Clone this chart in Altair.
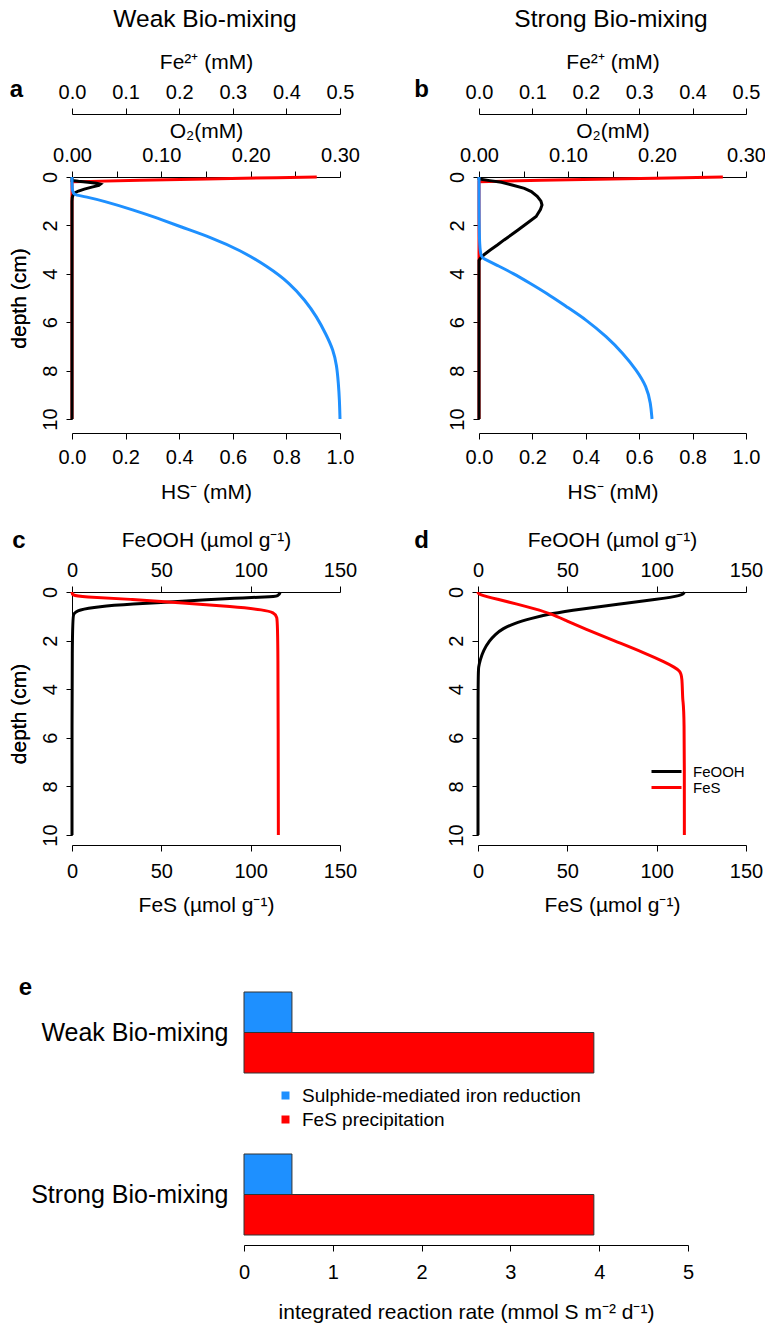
import altair as alt
import pandas as pd

FONT = "Liberation Sans"
BLUE = "#1E90FF"
RED = "#FF0000"
BLACK = "#000000"

# ---------------- data ----------------
# Panel a (weak bio-mixing)
o2_weak_depth = [0, 0.03, 0.08, 0.13, 0.2, 10]
o2_weak = [0.274, 0.229, 0.151, 0.076, 0.0, 0.0]
fe_weak_depth = [0, 0.14, 0.18, 0.22, 0.26, 0.3, 0.35, 0.42, 0.5, 0.58, 0.66, 0.75, 0.85, 1.0, 10]
fe_weak = [0, 0, 0.012, 0.03, 0.046, 0.053, 0.05, 0.037, 0.023, 0.012, 0.005, 0.002, 0.0005, 0, 0]
hs_weak_depth = [0, 0.68, 0.75, 0.81, 1.0, 1.36, 1.7, 2.05, 2.5, 3.02, 3.7, 4.39, 5.1, 5.77, 6.5, 7.15, 7.8, 8.53, 9.2, 10]
hs_weak = [0, 0, 0.015, 0.05, 0.12, 0.229, 0.32, 0.403, 0.52, 0.627, 0.73, 0.813, 0.87, 0.913, 0.948, 0.975, 0.988, 0.994, 0.998, 1.0]

# Panel b (strong bio-mixing)
o2_strong_depth = [0, 0.03, 0.08, 0.13, 0.2, 10]
o2_strong = [0.274, 0.23, 0.149, 0.07, 0.0, 0.0]
fe_strong_depth = [0, 0.08, 0.15, 0.22, 0.33, 0.47, 0.6, 0.8, 1.0, 1.16, 1.35, 1.63, 1.91, 2.19, 2.4, 2.6, 2.8, 3.02, 3.2, 3.35, 3.45, 10]
fe_strong = [0, 0, 0.02, 0.042, 0.062, 0.085, 0.098, 0.109, 0.116, 0.118, 0.115, 0.107, 0.09, 0.073, 0.06, 0.047, 0.035, 0.021, 0.01, 0.003, 0, 0]
hs_strong_depth = [0, 3.28, 3.36, 3.64, 3.98, 4.39, 4.8, 5.36, 5.91, 6.6, 7.29, 7.98, 8.66, 9.35, 10]
hs_strong = [0, 0, 0.016, 0.066, 0.128, 0.191, 0.253, 0.328, 0.403, 0.478, 0.54, 0.59, 0.628, 0.643, 0.648]

# Panel c (weak) solid phases
feooh_weak_depth = [0, 0.17, 0.2, 0.26, 0.32, 0.38, 0.44, 0.49, 0.55, 0.6, 0.67, 0.74, 0.82, 0.9, 1.05, 10]
feooh_weak = [116.5, 116, 110, 90, 75, 62, 47, 34, 23, 15.7, 9, 4.5, 2, 1, 0, 0]
fes_weak_depth = [0, 0.13, 0.2, 0.3, 0.45, 0.6, 0.74, 0.85, 1.0, 1.5, 10]
fes_weak = [0, 0, 5, 34, 62, 90, 108, 113, 114.8, 115.3, 115.5]

# Panel d (strong) solid phases
feooh_strong_depth = [0, 0.15, 0.3, 0.5, 0.7, 0.88, 1.1, 1.3, 1.5, 1.75, 2.0, 2.4, 2.8, 3.1, 3.3, 10]
feooh_strong = [115.5, 114.5, 100, 78, 58, 41, 29, 20, 14, 9.5, 6.5, 3, 1.2, 0.3, 0, 0]
fes_strong_depth = [0, 0.1, 0.3, 0.5, 0.7, 0.88, 1.2, 1.5, 2.0, 2.5, 2.9, 3.1, 3.25, 3.45, 4.6, 4.65, 10]
fes_strong = [0, 0, 11, 22, 32, 40.3, 50, 59.5, 76, 93, 105, 110, 113, 114.3, 114.5, 115.5, 115.5]

# Panel e (integrated rates)
scenarios = ["Weak Bio-mixing", "Strong Bio-mixing"]
processes = ["Sulphide-mediated iron reduction", "FeS precipitation"]
rate_weak = [0.54, 3.94]
rate_strong = [0.54, 3.94]

# tick values
o2_ticks = [0, 0.05, 0.10, 0.15, 0.20, 0.25, 0.30]
fe_ticks = [0, 0.1, 0.2, 0.3, 0.4, 0.5]
hs_ticks = [0, 0.2, 0.4, 0.6, 0.8, 1.0]
solid_ticks = [0, 50, 100, 150]
depth_ticks = [0, 2, 4, 6, 8, 10]
rate_ticks = [0, 1, 2, 3, 4, 5]

panel_letters = ["a", "b", "c", "d", "e"]
column_titles = ["Weak Bio-mixing", "Strong Bio-mixing"]

# ---------------- layout (pixels) ----------------
H = 1326
XA = [72, 340]
XB = [479, 746]
XC = [72, 340]
XD = [478, 746]
YAB = [177, 419]
YCD = [592, 835]

TICK = 6
LFS = 20
TFS = 21


def top_axis(title, values, axis_y, title_dy, fmt=None, expr=None):
    kw = dict(orient="top", offset=-axis_y, values=values, title=title,
              titleY=title_dy, titleBaseline="alphabetic",
              labelBaseline="alphabetic", tickSize=TICK, labelPadding=10)
    if expr is not None:
        kw["labelExpr"] = expr
    else:
        kw["format"] = fmt
    return alt.Axis(**kw)


def bottom_axis(title, values, axis_y, label_pad, title_dy, fmt):
    return alt.Axis(orient="bottom", offset=axis_y - H, values=values, title=title,
                    titleY=title_dy, titleBaseline="alphabetic",
                    labelBaseline="alphabetic", tickSize=TICK,
                    labelPadding=label_pad, format=fmt)


def depth_axis(x0):
    return alt.Axis(orient="left", offset=-x0, values=depth_ticks, title="depth (cm)",
                    labelAngle=270, labelAlign="center", labelBaseline="alphabetic",
                    tickSize=TICK, labelPadding=10, format="d",
                    titleX=25 - x0, titleAngle=270, titleBaseline="alphabetic",
                    titleAlign="center")


def line(depth, vals, xdom, xrng, yrng, xaxis, yaxis, color=None, series=None,
         legend=None, interp="linear"):
    df = pd.DataFrame({"depth": depth, "val": vals})
    df["k"] = range(len(df))
    enc = dict(
        x=alt.X("val:Q", scale=alt.Scale(domain=xdom, range=xrng, nice=False, zero=False), axis=xaxis),
        y=alt.Y("depth:Q", scale=alt.Scale(domain=[0, 10], range=yrng, nice=False, zero=False), axis=yaxis),
        order=alt.Order("k:Q"),
    )
    if series is not None:
        df["series"] = series
        enc["stroke"] = alt.Stroke("series:N",
                                   scale=alt.Scale(domain=["FeOOH", "FeS"], range=[BLACK, RED]),
                                   legend=legend)
        mk = alt.Chart(df).mark_line(strokeWidth=3, interpolate=interp)
    else:
        mk = alt.Chart(df).mark_line(strokeWidth=3, color=color, interpolate=interp)
    return mk.encode(**enc)


O2_EXPR = "round(datum.value*20) % 2 == 0 ? format(datum.value, '.2f') : ''"

layers = []
# ---- panel a ----
layers.append(line(o2_weak_depth, o2_weak, [0, 0.3], XA, YAB,
                   top_axis("O\u2082(mM)", o2_ticks, 177, -40, expr=O2_EXPR), None, color=RED))
layers.append(line(fe_weak_depth, fe_weak, [0, 0.5], XA, YAB,
                   top_axis("Fe\u00b2\u207a (mM)", fe_ticks, 114, -46, fmt=".1f"), None, color=BLACK))
layers.append(line(hs_weak_depth, hs_weak, [0, 1], XA, YAB,
                   bottom_axis("HS\u207b (mM)", hs_ticks, 433, 24, 65, ".1f"), depth_axis(72),
                   color=BLUE, interp="basis"))
# ---- panel b ----
layers.append(line(o2_strong_depth, o2_strong, [0, 0.3], XB, YAB,
                   top_axis("O\u2082(mM)", o2_ticks, 177, -40, expr=O2_EXPR), None, color=RED))
layers.append(line(fe_strong_depth, fe_strong, [0, 0.5], XB, YAB,
                   top_axis("Fe\u00b2\u207a (mM)", fe_ticks, 114, -46, fmt=".1f"), None, color=BLACK))
layers.append(line(hs_strong_depth, hs_strong, [0, 1], XB, YAB,
                   bottom_axis("HS\u207b (mM)", hs_ticks, 433, 24, 65, ".1f"), depth_axis(479),
                   color=BLUE, interp="basis"))
# ---- panel c ----
layers.append(line(feooh_weak_depth, feooh_weak, [0, 150], XC, YCD,
                   top_axis("FeOOH (\u00b5mol g\u207b\u00b9)", solid_ticks, 592, -46, fmt="d"),
                   depth_axis(72), color=BLACK, interp="basis"))
layers.append(line(fes_weak_depth, fes_weak, [0, 150], XC, YCD,
                   bottom_axis("FeS (\u00b5mol g\u207b\u00b9)", solid_ticks, 845, 26, 66, "d"), None,
                   color=RED, interp="basis"))
# ---- panel d ----
leg_d = alt.Legend(orient="none", legendX=659, legendY=764, title=None,
                   symbolType="M-3,0L3,0", symbolSize=100, symbolStrokeWidth=3,
                   labelFontSize=15, rowPadding=0, labelOffset=19, padding=0)
layers.append(line(feooh_strong_depth, feooh_strong, [0, 150], XD, YCD,
                   top_axis("FeOOH (\u00b5mol g\u207b\u00b9)", solid_ticks, 592, -46, fmt="d"),
                   depth_axis(478), series="FeOOH", legend=leg_d, interp="basis"))
layers.append(line(fes_strong_depth, fes_strong, [0, 150], XD, YCD,
                   bottom_axis("FeS (\u00b5mol g\u207b\u00b9)", solid_ticks, 845, 26, 66, "d"), None,
                   series="FeS", legend=leg_d, interp="basis"))

# ---- panel e ----
bar_df = pd.DataFrame({
    "scenario": [scenarios[0]] * 2 + [scenarios[1]] * 2,
    "process": processes * 2,
    "rate": rate_weak + rate_strong,
})
bars = alt.Chart(bar_df).mark_bar(stroke="#333333", strokeWidth=1).encode(
    y=alt.Y("scenario:N", sort=scenarios,
            scale=alt.Scale(domain=scenarios, range=[992, 1235], paddingInner=0.5, paddingOuter=0),
            axis=alt.Axis(orient="left", offset=-244, domain=False, ticks=False, labelPadding=16,
                          labelFontSize=25, title=None, labelLimit=400, labelBaseline="middle")),
    yOffset=alt.YOffset("process:N", sort=processes,
                        scale=alt.Scale(domain=processes, paddingInner=0, paddingOuter=0)),
    x=alt.X("rate:Q", scale=alt.Scale(domain=[0, 5], range=[244, 688], nice=False, zero=True),
            axis=bottom_axis("integrated reaction rate (mmol S m\u207b\u00b2 d\u207b\u00b9)",
                             rate_ticks, 1245, 27, 73, "d")),
    fill=alt.Fill("process:N", sort=processes,
                  scale=alt.Scale(domain=processes, range=[BLUE, RED]),
                  legend=alt.Legend(orient="none", legendX=276, legendY=1086, title=None,
                                    symbolType="square", symbolSize=64, symbolStrokeWidth=0,
                                    labelFontSize=19, rowPadding=4, labelOffset=7, padding=0,
                                    labelLimit=500)),
)
layers.append(bars)

# ---- annotations (panel letters & column titles) ----
letter_pos = [(16.5, 97), (421.5, 97), (19, 548), (421.5, 548), (25.5, 995)]
for lt, (px, py) in zip(panel_letters, letter_pos):
    layers.append(alt.Chart(pd.DataFrame({"t": [lt]})).mark_text(
        x=px, y=py, align="center", baseline="alphabetic", fontSize=24, fontWeight="bold",
        font=FONT, color=BLACK).encode(text="t:N"))
title_pos = [(205, 27), (611, 27)]
for tt, (px, py) in zip(column_titles, title_pos):
    layers.append(alt.Chart(pd.DataFrame({"t": [tt]})).mark_text(
        x=px, y=py, align="center", baseline="alphabetic", fontSize=24.5,
        font=FONT, color=BLACK).encode(text="t:N"))

chart = alt.layer(*layers).resolve_scale(
    x="independent", y="independent"
).properties(
    width=765, height=H, padding=0, autosize=alt.AutoSizeParams(type="none")
).configure_view(stroke=None).configure_axis(
    labelFont=FONT, titleFont=FONT, labelFontSize=LFS, titleFontSize=TFS,
    labelColor=BLACK, titleColor=BLACK, domainColor=BLACK, tickColor=BLACK,
    domainWidth=1, tickWidth=1, grid=False, labelFlush=False, labelOverlap=False,
    titleFontWeight="normal", labelBound=False
).configure_legend(labelFont=FONT, labelColor=BLACK)

chart.save("out.html", embed_options={"renderer": "svg", "actions": False})
